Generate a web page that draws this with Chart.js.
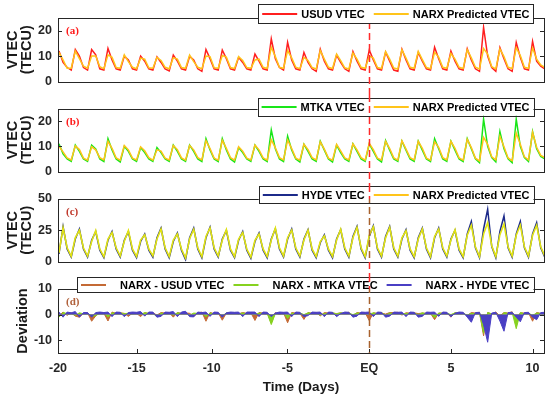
<!DOCTYPE html>
<html>
<head>
<meta charset="utf-8">
<script src="https://cdn.jsdelivr.net/npm/chart.js@4.4.1/dist/chart.umd.min.js"></script>
<style>
  html, body { margin: 0; padding: 0; background: #fff; }
  #wrap { position: relative; width: 550px; height: 398px; }
  .panel { position: absolute; left: 0; width: 550px; }
</style>
</head>
<body>
<div id="wrap">
  <div class="panel" style="top:0;height:95px"><canvas id="chartA"></canvas></div>
  <div class="panel" style="top:95px;height:90px"><canvas id="chartB"></canvas></div>
  <div class="panel" style="top:185px;height:90px"><canvas id="chartC"></canvas></div>
  <div class="panel" style="top:275px;height:123px"><canvas id="chartD"></canvas></div>
</div>
<script>
const FONT = "'Liberation Sans', Arial, sans-serif";
const SERIF = "'Liberation Serif', 'Times New Roman', serif";
Chart.defaults.font.family = FONT;

// time axis: first sample on day -19, one sample every 6 h (4 per day)
const startDay = -19;
const stepDay = 0.25;

// x axis range and ticks, in days from the EQ, where they sit in the figure
const xMin = -19.06;
const xMax = 10.7;
const xTickPos = [-19.06, -14.25, -9.65, -5.02, 0, 5.01, 10.0];
const xTickLabels = ['-20', '-15', '-10', '-5', 'EQ', '5', '10'];

// USUD VTEC (TECU), each group of 4 = one day
const usudObs = [
  12, 7.5, 5.5, 4.5,   12.6, 10, 5.5, 4.5,   12.6, 10.5, 5, 4.5,   13, 8.5, 5, 4.5,   10, 8.5, 5, 4.5,
  10, 8, 5, 4.5,       9.7, 7.5, 5, 4.2,     10.4, 8, 5, 4.5,      9.9, 8.5, 5, 4,    12.6, 9, 5, 4.5,
  12.4, 9, 5, 4.5,     9.5, 7.5, 5, 4.5,     10.8, 8, 5, 4.5,      16.8, 9, 5.5, 4.5, 15.4, 8.5, 5, 4.5,
  11.4, 7.5, 5, 4,     12.7, 8, 5, 4.5,      10.4, 7.5, 5, 4,      11.8, 8, 5, 4.5,   12.4, 8.5, 5, 4.5,
  11.6, 8, 4.5, 4,     12.7, 8.5, 5, 4.5,    11.4, 8, 5, 4.5,      13.5, 9, 5, 4.5,   12, 8, 5, 4.5,
  12.9, 8.5, 5, 4,     21.3, 10, 5.5, 4,     13.3, 9, 5, 4,        15.4, 9.5, 5, 4.5, 15.8, 8, 6, 5
];
const usudNarx = [
  11.5, 8.5, 5.2, 5.2, 12, 9, 6, 5.2,        10, 10, 5.8, 5,       10.5, 9.5, 5.5, 5.2, 10.5, 7.8, 5.6, 5,
  9.2, 8.8, 5.4, 5.2,  9.5, 8.3, 5.6, 5,     9.4, 8.8, 5.5, 5.2,   10.4, 7.8, 5.6, 5,  10, 9.8, 5.4, 5.2,
  10.2, 9.6, 5.5, 5.1, 9.8, 8.3, 5.5, 5.2,   8.5, 8.8, 5.6, 5.1,   13.5, 9.8, 5.6, 5.2, 12.2, 9.3, 5.6, 5,
  9.5, 8.3, 5.5, 4.9,  12.2, 8.8, 5.6, 5.1,  10.8, 8.2, 5.4, 4.9,  11.2, 8.8, 5.6, 5.2, 10, 9.2, 5.5, 5.1,
  11.8, 8.8, 5.3, 4.9, 12.5, 9.2, 5.6, 5.2,  11.8, 8.6, 5.5, 5,    11.5, 9.6, 5.6, 5.2, 11, 8.8, 5.6, 5.1,
  12.5, 9.3, 5.6, 4.9, 13, 10.8, 5.8, 5,     12.8, 9.8, 5.6, 5.1,  13.3, 10.2, 5.6, 5.2, 13.2, 8.8, 6.5, 5.6
];

// MTKA VTEC (TECU)
const mtkaObs = [
  11, 7, 5, 4,         10.5, 8, 5, 4,        10.5, 9, 5, 4,        13, 8.5, 5, 3.8,   10, 8, 5, 4,
  9.5, 7.5, 5, 4,      9.5, 7.5, 5, 4,       10.5, 8, 5, 4,        10.5, 8, 5, 4,     13, 8.5, 5, 4,
  13, 8.5, 5, 3.8,     9.5, 7.5, 5, 4,       10.5, 8, 5, 4,        16.5, 9, 5, 4,     14, 8.5, 5, 3.8,
  10.8, 8, 5, 4,       12, 8.5, 5, 3.8,      10.5, 7.5, 5, 4,      11, 8, 5, 4,       11, 8, 5, 3.8,
  12.3, 8.5, 5, 4,     12, 8.5, 5, 4,        12, 8.5, 5, 4,        13, 9, 5, 4,       12, 8.5, 5, 4,
  13, 9, 5, 3.5,       20.8, 10, 5.5, 3.8,   15.8, 9, 5, 3.5,      20.8, 10, 5.5, 4,  15.8, 9, 6, 5
];
const mtkaNarx = [
  10, 7.8, 5.4, 4.6,   10.2, 8.7, 5.3, 4.5,  9.8, 8.6, 5.5, 4.6,   12, 9.2, 5.4, 4.5, 10.3, 8.6, 5.3, 4.6,
  9.8, 8.2, 5.5, 4.5,  8.6, 8.1, 5.3, 4.6,   10.3, 8.7, 5.4, 4.5,  10.3, 8.6, 5.5, 4.6, 12.2, 9.1, 5.3, 4.5,
  12.4, 9.2, 5.5, 4.5, 9.8, 8.1, 5.3, 4.6,   10.5, 8.6, 5.4, 4.5,  12.6, 9.4, 5.5, 4.6, 12.5, 9.1, 5.3, 4.5,
  10.8, 8.7, 5.5, 4.6, 11.8, 8.9, 5.3, 4.5,  10.8, 8.2, 5.4, 4.6,  11, 8.6, 5.5, 4.5, 11.2, 8.7, 5.3, 4.6,
  12, 9.1, 5.4, 4.5,   12.2, 8.9, 5.5, 4.6,  12, 9.2, 5.3, 4.5,    11.8, 9.6, 5.5, 4.6, 12, 9.2, 5.4, 4.5,
  12.8, 9.5, 5.3, 4.2, 13.5, 10.8, 5.8, 4.6, 14, 9.8, 5.4, 4.3,    15.3, 10.8, 5.8, 4.6, 15.5, 9.6, 6.4, 5.5
];

// HYDE VTEC (TECU); the Indian peak comes 6 h after the Japanese one
const hydeObs = [
  6, 28, 10, 3.5,      18, 26, 10, 3.5,      17, 24, 9, 3,         17, 24, 10, 3.5,   17, 24, 9, 3,
  16, 22, 9, 3.5,      19, 26.7, 10, 3,      16, 22.8, 9, 1.5,     19, 26.7, 10, 3,   19, 27.5, 10, 3.5,
  18, 24.9, 9, 3,      17, 24, 9, 2.5,       16, 22.8, 9, 3,       18, 26.2, 10, 3.5, 18, 26, 10, 3.5,
  18, 25.4, 9, 3,      15, 21.4, 9, 3,       18, 25.4, 10, 3.5,    20, 28, 10, 3,     20, 28.6, 10, 3.5,
  20, 28, 10, 3.5,     18, 25.4, 9, 3,       19, 26.7, 10, 3,      19, 26.7, 10, 3.5, 18, 24.9, 9, 3,
  22, 32, 11, 3,       26, 41.8, 12, 3,      24, 36.5, 11, 3.5,    22, 32, 11, 3.5,   22, 31, 11, 3.5
];
const hydeNarx = [
  7, 27, 11, 4.2,      19.2, 25, 10.8, 4.3,  16, 24.8, 10, 3.8,    18, 23.2, 11, 4.4, 16.2, 24.8, 10, 3.9,
  17.2, 21.4, 10, 4.5, 18, 26, 11, 3.9,      17.2, 22, 10, 2.8,    18.2, 25.8, 11, 3.8, 20, 26.8, 11, 4.4,
  17, 25.6, 10, 3.9,   18, 23.2, 10, 3.5,    17, 22, 10, 3.9,      17.2, 26.8, 11, 4.4, 19, 25.2, 11, 4.4,
  17.2, 25, 10, 3.9,   16, 20.6, 10, 3.9,    17.2, 25.8, 11, 4.4,  19, 27.4, 11, 3.9,  21, 27.8, 11, 4.4,
  19, 27.4, 11, 4.4,   19, 24.6, 10, 3.9,    18, 26, 11, 3.9,      20, 26, 11, 4.4,    17.2, 25.4, 10, 3.9,
  21, 29, 11.8, 3.9,   22, 31, 12.6, 3.9,    21.5, 30, 11.8, 4.4,  21, 29.2, 11.8, 4.4, 21, 29, 11.8, 4.4
];

const yTicksVtec = [0, 10, 20];
const yTicksHyde = [0, 25, 50];
const yTicksDev = [-10, 0, 10];

const colUsud = '#ff1f1f';
const colMtka = '#19e619';
const colHyde = '#1c2a8a';
const colNarx = '#ffc41a';
const colNarxC = '#e2e412';
const colDevUsud = '#c46a35';
const colDevMtka = '#86d21f';
const colDevHyde = '#4a3fc4';

function pts(values) {
  return values.map((v, i) => ({ x: startDay + i * stepDay, y: v }));
}
function diff(pred, obs) {
  return pred.map((v, i) => v - obs[i]);
}

// box, inward ticks, legend, EQ line and panel tag
const panelDecor = {
  id: 'panelDecor',
  afterDatasetsDraw(chart, args, o) {
    const { ctx, chartArea: a, scales: { x, y } } = chart;
    ctx.save();
    ctx.setLineDash([]);
    ctx.strokeStyle = '#262626';
    ctx.lineWidth = 1;
    ctx.strokeRect(Math.round(a.left) + 0.5, Math.round(a.top) + 0.5, Math.round(a.width), Math.round(a.height));
    ctx.beginPath();
    y.ticks.forEach(t => {
      const py = Math.round(y.getPixelForValue(t.value)) + 0.5;
      ctx.moveTo(a.left, py); ctx.lineTo(a.left + 4, py);
      ctx.moveTo(a.right, py); ctx.lineTo(a.right - 4, py);
    });
    if (o.xTicks) {
      x.ticks.forEach(t => {
        const px = Math.round(x.getPixelForValue(t.value)) + 0.5;
        ctx.moveTo(px, a.bottom); ctx.lineTo(px, a.bottom - 4);
      });
    }
    ctx.stroke();

    // legend
    const lg = o.legend;
    ctx.font = 'bold 11px ' + FONT;
    const items = lg.order.map(i => chart.data.datasets[i]);
    const widths = items.map(d => ctx.measureText(d.label).width);
    const boxW = 8 + widths.reduce((s, w) => s + w + lg.sampleW + lg.textGap, 0) + lg.itemGap * (items.length - 1);
    const boxR = a.right - 10.5;
    const boxL = boxR - boxW;
    const boxT = a.top - lg.above;
    ctx.fillStyle = '#fff';
    ctx.fillRect(boxL, boxT, boxW, lg.height);
    ctx.strokeStyle = '#262626';
    ctx.strokeRect(Math.round(boxL) + 0.5, Math.round(boxT) + 0.5, Math.round(boxW), lg.height);
    let cx = boxL + 4;
    const cy = boxT + lg.height / 2 + 0.5;
    ctx.textBaseline = 'middle';
    ctx.textAlign = 'left';
    items.forEach((d, j) => {
      ctx.strokeStyle = d.legendColor || d.borderColor;
      ctx.lineWidth = 2;
      ctx.beginPath(); ctx.moveTo(cx, cy); ctx.lineTo(cx + lg.sampleW, cy); ctx.stroke();
      cx += lg.sampleW + lg.textGap;
      ctx.fillStyle = '#000';
      ctx.fillText(d.label, cx, cy + 0.5);
      cx += widths[j] + lg.itemGap;
    });

    // EQ marker
    const ex = Math.round(x.getPixelForValue(0)) + 0.5;
    const keyY = {
      canvasTop: 0, legendBottom: boxT + lg.height + 1,
      areaTop: a.top, areaBottom: a.bottom, canvasBottom: chart.height
    };
    ctx.lineWidth = 1.5;
    ctx.setLineDash([7, 4]);
    o.eq.forEach(([from, to, color]) => {
      ctx.strokeStyle = color;
      ctx.lineDashOffset = keyY[from];
      ctx.beginPath(); ctx.moveTo(ex, keyY[from]); ctx.lineTo(ex, keyY[to]); ctx.stroke();
    });
    ctx.setLineDash([]);

    // panel tag
    ctx.font = 'bold 11px ' + SERIF;
    ctx.fillStyle = o.tagColor;
    ctx.fillText(o.tag, a.left + 8, a.top + 13.5);
    ctx.restore();
  }
};

function makePanel(id, cfg) {
  const showX = !!cfg.showX;
  return new Chart(document.getElementById(id), {
    type: 'line',
    data: { datasets: cfg.datasets },
    options: {
      responsive: true,
      maintainAspectRatio: false,
      animation: false,
      layout: { padding: { top: cfg.top, right: 6, bottom: cfg.bottom, left: 0 } },
      elements: { point: { radius: 0 }, line: { tension: 0, borderWidth: 1.4 } },
      plugins: {
        legend: { display: false },
        tooltip: { enabled: false },
        panelDecor: cfg.decor
      },
      scales: {
        x: {
          type: 'linear',
          min: xMin,
          max: xMax,
          display: showX,
          afterBuildTicks: axis => { axis.ticks = xTickPos.map(v => ({ value: v })); },
          afterFit: axis => { if (showX) axis.height = 45; },
          grid: { display: false, drawTicks: false },
          border: { display: false },
          ticks: {
            autoSkip: false, maxRotation: 0, padding: 8, color: '#262626',
            font: { size: 12.5, weight: 'bold' },
            callback: (v, i) => xTickLabels[i]
          },
          title: {
            display: showX, text: 'Time (Days)', color: '#1a1a1a',
            font: { size: 13.5, weight: 'bold', lineHeight: 1.2 },
            padding: { top: 0, bottom: 3 }
          }
        },
        y: {
          min: cfg.yMin,
          max: cfg.yMax,
          afterBuildTicks: axis => { axis.ticks = cfg.yTicks.map(v => ({ value: v })); },
          afterFit: axis => { axis.width = 58; },
          grid: { display: false, drawTicks: false },
          border: { display: false },
          ticks: { padding: 6, color: '#262626', font: { size: 12.5, weight: 'bold' } },
          title: {
            display: true, text: cfg.yTitle, color: '#1a1a1a',
            font: { size: 14.5, weight: 'bold', lineHeight: 1.0 },
            padding: { top: cfg.yTitlePad, bottom: 0 }
          }
        }
      }
    },
    plugins: [panelDecor]
  });
}

const legendVtec = { order: [1, 0], sampleW: 35, textGap: 4, itemGap: 9 };

makePanel('chartA', {
  top: 18, bottom: 13, yMin: 0, yMax: 25, yTicks: yTicksVtec,
  yTitle: ['VTEC', '(TECU)'], yTitlePad: 5.5,
  datasets: [
    { label: 'NARX Predicted VTEC', data: pts(usudNarx), borderColor: colNarx, borderWidth: 1.5 },
    { label: 'USUD VTEC', data: pts(usudObs), borderColor: colUsud, borderWidth: 1.5 }
  ],
  decor: {
    legend: Object.assign({ above: 14, height: 19 }, legendVtec),
    eq: [['legendBottom', 'canvasBottom', '#ff2a2a']],
    tag: '(a)', tagColor: '#ff1a1a'
  }
});

makePanel('chartB', {
  top: 13, bottom: 12, yMin: 0, yMax: 25, yTicks: yTicksVtec,
  yTitle: ['VTEC', '(TECU)'], yTitlePad: 5.5,
  datasets: [
    { label: 'NARX Predicted VTEC', data: pts(mtkaNarx), borderColor: colNarx, borderWidth: 1.5 },
    { label: 'MTKA VTEC', data: pts(mtkaObs), borderColor: colMtka, borderWidth: 1.5 }
  ],
  decor: {
    legend: Object.assign({ above: 11, height: 18 }, legendVtec),
    eq: [['canvasTop', 'canvasBottom', '#ff2a2a']],
    tag: '(b)', tagColor: '#ff1a1a'
  }
});

makePanel('chartC', {
  top: 14, bottom: 13, yMin: 0, yMax: 50, yTicks: yTicksHyde,
  yTitle: ['VTEC', '(TECU)'], yTitlePad: 5.5,
  datasets: [
    { label: 'NARX Predicted VTEC', data: pts(hydeNarx), borderColor: colNarxC, legendColor: colNarx, borderWidth: 1.6 },
    { label: 'HYDE VTEC', data: pts(hydeObs), borderColor: colHyde, borderWidth: 1.5 }
  ],
  decor: {
    legend: Object.assign({ above: 13, height: 17 }, legendVtec),
    eq: [['canvasTop', 'areaTop', '#ff2a2a'], ['areaTop', 'areaBottom', '#a8622e'], ['areaBottom', 'canvasBottom', '#ff2a2a']],
    tag: '(c)', tagColor: '#c0392b'
  }
});

makePanel('chartD', {
  top: 14, bottom: 0, yMin: -15, yMax: 10, yTicks: yTicksDev, showX: true,
  yTitle: 'Deviation', yTitlePad: 15.5,
  datasets: [
    { label: 'NARX - HYDE VTEC', data: pts(diff(hydeNarx, hydeObs)), borderColor: colDevHyde, backgroundColor: colDevHyde, fill: 'origin', borderWidth: 1 },
    { label: 'NARX - MTKA VTEC', data: pts(diff(mtkaNarx, mtkaObs)), borderColor: colDevMtka, backgroundColor: colDevMtka, fill: 'origin', borderWidth: 1 },
    { label: 'NARX - USUD VTEC', data: pts(diff(usudNarx, usudObs)), borderColor: colDevUsud, backgroundColor: colDevUsud, fill: 'origin', borderWidth: 1 }
  ],
  decor: {
    legend: { order: [2, 1, 0], sampleW: 25, textGap: 14, itemGap: 9, above: 12, height: 15 },
    eq: [['canvasTop', 'areaTop', '#ff2a2a'], ['areaTop', 'areaBottom', '#a8622e']],
    tag: '(d)', tagColor: '#b0603a', xTicks: true
  }
});
</script>
</body>
</html>
